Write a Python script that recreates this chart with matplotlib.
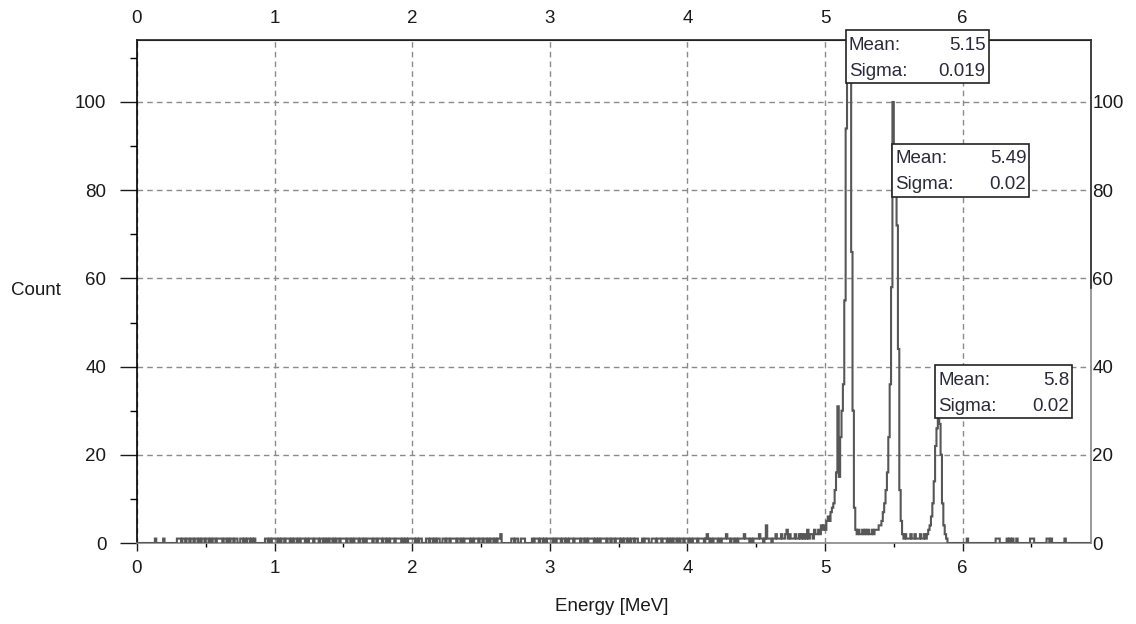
import matplotlib
matplotlib.use("Agg")
import matplotlib.pyplot as plt
import numpy as np
from matplotlib.patches import Rectangle

plt.rcParams["font.family"] = ["Liberation Sans", "DejaVu Sans"]

BIN_WIDTH = 0.01  # MeV per channel

# channel counts, one digit per 0.01 MeV channel, groups of 10 channels
noise_0 = "0000000000 0001000001 0000000001 1101101101 1011010110 1101011011 1101101011 0110011010 1101010000 0001101011"
noise_1 = "1101011011 1010110101 1101011101 1101101010 1101011011 1101101011 1011010111 1011011101 1010111011 1101010111"
noise_2 = "1101011000 1101101011 0011011011 1101101011 1101011101 1011010110 1011200000 0011011001 1100000101 1101101011"
noise_3 = "1101011101 1010111011 1101101011 1101010111 1011011011 1010110101 1011000101 1100111011 1011101010 1101011011"
noise_4 = "1010111011 1101210101 1101011121 1011010111 1211101011 1121101411 1011211121 1231211121 1212121312"
# 4.90 .. 5.99 MeV
peak_region = [
    2, 1, 3, 2, 2, 3, 2, 4, 3, 4,
    3, 5, 6, 5, 7, 8, 9, 12, 16, 31,
    15, 24, 30, 36, 55, 94, 125, 130, 110, 66,
    30, 8, 3, 2, 3, 2, 2, 3, 2, 3,
    2, 3, 2, 2, 3, 2, 3, 3, 3, 4,
    4, 5, 7, 9, 12, 16, 24, 36, 58, 100,
    88, 82, 72, 44, 12, 5, 2, 1, 2, 1,
    1, 1, 2, 1, 1, 2, 1, 1, 1, 2,
    1, 1, 2, 1, 2, 3, 4, 6, 9, 14,
    22, 26, 29, 27, 20, 9, 4, 2, 1, 0,
    0, 0, 0, 0, 0, 0, 0, 0, 0, 0,
]
noise_6 = "0001000000 0000000000 0000111000 0010101001 0000000001 1100000000 0110100000 0000100000 0000000000 000"

fit_means = ["5.15", "5.49", "5.8"]
fit_sigmas = ["0.019", "0.02", "0.02"]

x_ticks = [0, 1, 2, 3, 4, 5, 6]
y_ticks = [0, 20, 40, 60, 80, 100]


def digits(s):
    return [int(c) for c in s.replace(" ", "")]


counts = np.array(digits(noise_0) + digits(noise_1) + digits(noise_2) + digits(noise_3)
                  + digits(noise_4) + peak_region + digits(noise_6))
edges = np.arange(len(counts) + 1) * BIN_WIDTH

W, H = 1136, 624
fig = plt.figure(figsize=(W / 100, H / 100), dpi=100)
ax = fig.add_axes([137 / W, 1 - 543 / H, 954 / W, 503 / H])

ax.stairs(counts, edges, color="#575757", lw=1.5, baseline=0, zorder=3)
ax.set_xlim(0, 954 / 137.6)
ax.set_ylim(0, 503 / 4.41)

grid_kw = dict(color="#8a8a8a", lw=1, dashes=(4, 3))
ax.grid(True, which="major", **grid_kw)
ax.set_axisbelow(True)

ax.set_xticks(x_ticks)
ax.set_xticks(np.arange(0.5, 7, 1.0), minor=True)
ax.set_yticks(y_ticks)
ax.set_yticks(np.arange(10, 120, 20), minor=True)
ax.tick_params(axis="x", which="major", direction="out", length=6, width=1, pad=6,
               labelsize=13.5, colors="#1a1a1a")
ax.tick_params(axis="x", which="minor", direction="out", length=3, width=1)
ax.tick_params(axis="y", which="major", direction="out", length=12, width=1, pad=10,
               labelsize=13.5, colors="#1a1a1a")
ax.tick_params(axis="y", which="minor", direction="out", length=5, width=1)

for side, col in [("left", "#000000"), ("top", "#222222"), ("bottom", "#888888"), ("right", "#888888")]:
    ax.spines[side].set_color(col)
    ax.spines[side].set_linewidth(1.2)
ax.plot([1, 1], [0.507, 1], transform=ax.transAxes, color="#333333", lw=1.2, clip_on=False, zorder=4)

top = ax.secondary_xaxis("top")
top.set_xticks(x_ticks)
top.tick_params(length=0, pad=9, labelsize=13.5, colors="#1a1a1a")
top.spines["top"].set_color("#222222")
right = ax.secondary_yaxis("right")
right.set_yticks(y_ticks)
right.tick_params(length=0, pad=1, labelsize=13.5, colors="#1a1a1a")
right.spines["right"].set_visible(False)

ax.set_ylabel("Count", rotation=0, fontsize=13.5, color="#1a1a1a", ha="center", va="center")
ax.yaxis.set_label_coords(-0.106, 0.501)
ax.set_xlabel("Energy [MeV]", fontsize=13.5, color="#1a1a1a", va="center")
ax.xaxis.set_label_coords(0.498, -0.127)

# fit result boxes, left edge at the fitted mean
box_bottom = [104.3, 78.5, 28.3]
box_width = [143, 137, 137]
box_h = 53
for m, s, b, w in zip(fit_means, fit_sigmas, box_bottom, box_width):
    x0, y0 = ax.transData.transform((float(m), b))
    fig.add_artist(Rectangle((x0 / W, y0 / H), w / W, box_h / H, transform=fig.transFigure,
                             fc="white", ec="#222222", lw=1.2, zorder=5))
    for dy, name, val in [(15, "Mean:", m), (41, "Sigma:", s)]:
        yy = (y0 + box_h - dy) / H
        fig.text((x0 + 3) / W, yy, name, ha="left", va="center", fontsize=13.5,
                 color="#2a2a3a", zorder=6)
        fig.text((x0 + w - 3) / W, yy, val, ha="right", va="center", fontsize=13.5,
                 color="#2a2a3a", zorder=6)

fig.savefig("out.png", dpi=100, facecolor="white")
